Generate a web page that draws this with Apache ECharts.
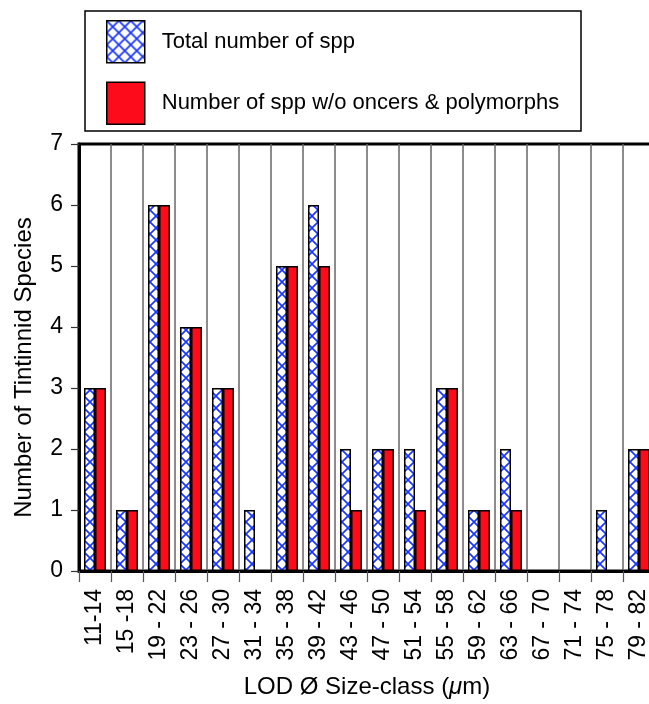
<!DOCTYPE html>
<html>
<head>
<meta charset="utf-8">
<script src="https://cdn.jsdelivr.net/npm/echarts@6/dist/echarts.min.js"></script>
<style>
  html, body { margin: 0; padding: 0; background: #fff; overflow: hidden; }
  #chart { width: 660px; height: 704px; }
</style>
</head>
<body>
<div id="chart"></div>
<script>
const categories = ['11-14', '15 -18', '19 - 22', '23 - 26', '27 - 30', '31 - 34', '35 - 38', '39 - 42', '43 - 46',
  '47 - 50', '51 - 54', '55 - 58', '59 - 62', '63 - 66', '67 - 70', '71 - 74', '75 - 78', '79 - 82']
const totalSpp = [3, 1, 6, 4, 3, 1, 5, 6, 2, 2, 2, 3, 1, 2, 0, 0, 1, 2]
const sppNoOncers = [3, 1, 6, 4, 3, 0, 5, 5, 1, 2, 1, 3, 1, 1, 0, 0, 0, 2]
const seriesNames = ['Total number of spp', 'Number of spp w/o oncers & polymorphs']

const FONT = '"Liberation Sans", Arial, Helvetica, sans-serif'

// blue cross-hatch tile
function hatchTile() {
  const s = 12
  const c = document.createElement('canvas')
  c.width = s
  c.height = s
  const ctx = c.getContext('2d')
  ctx.fillStyle = '#fff'
  ctx.fillRect(0, 0, s, s)
  ctx.strokeStyle = '#1a36ff'
  ctx.lineWidth = 1.7
  ctx.beginPath()
  ctx.moveTo(0, 0); ctx.lineTo(s, s)
  ctx.moveTo(s, 0); ctx.lineTo(0, s)
  ctx.stroke()
  return c
}

const chart = echarts.init(document.getElementById('chart'))

chart.setOption({
  animation: false,
  textStyle: { fontFamily: FONT },
  graphic: [
    {
      type: 'rect',
      shape: { x: 85, y: 11, width: 496, height: 120 },
      style: { fill: 'none', stroke: '#000', lineWidth: 1.5 },
      z: 10,
    },
  ],
  legend: {
    orient: 'vertical',
    left: 101,
    top: 15,
    itemWidth: 38,
    itemHeight: 42,
    itemGap: 18,
    icon: 'rect',
    itemStyle: { borderColor: '#000', borderWidth: 1.5 },
    textStyle: { fontFamily: FONT, fontSize: 22, color: '#000', padding: [0, 0, 0, 12] },
    data: seriesNames,
  },
  grid: {
    left: 79,
    right: 5,
    top: 144,
    bottom: 129,
    show: true,
    borderColor: '#000',
    borderWidth: 3,
    backgroundColor: 'transparent',
  },
  xAxis: {
    type: 'category',
    data: categories,
    name: 'LOD Ø Size-class ({i|μ}m)',
    nameLocation: 'middle',
    nameGap: 104,
    nameTextStyle: {
      fontFamily: FONT,
      fontSize: 24,
      color: '#000',
      rich: { i: { fontFamily: FONT, fontSize: 24, fontStyle: 'italic', color: '#000' } },
    },
    axisLine: { lineStyle: { color: '#000', width: 3 } },
    axisTick: { show: true, length: 11, lineStyle: { color: '#555', width: 1.2 } },
    axisLabel: { rotate: 90, margin: 18, fontSize: 23, color: '#000', fontFamily: FONT, interval: 0 },
    splitLine: { show: true, lineStyle: { color: '#666', width: 1.5 } },
  },
  yAxis: {
    type: 'value',
    min: 0,
    max: 7,
    interval: 1,
    name: 'Number of Tintinnid Species',
    nameLocation: 'middle',
    nameGap: 43,
    nameTextStyle: { fontFamily: FONT, fontSize: 24, color: '#000', padding: [0, 0, 0, -20] },
    axisLine: { show: true, lineStyle: { color: '#000', width: 3 } },
    axisTick: { show: true, length: 8, lineStyle: { color: '#333', width: 1.2 } },
    axisLabel: { fontSize: 23, color: '#000', margin: 16, fontFamily: FONT },
    splitLine: { show: false },
  },
  series: [
    {
      name: seriesNames[0],
      type: 'bar',
      data: totalSpp,
      barWidth: 11,
      barGap: '0%',
      itemStyle: {
        color: { image: hatchTile(), repeat: 'repeat' },
        borderColor: '#000',
        borderWidth: 1.5,
      },
    },
    {
      name: seriesNames[1],
      type: 'bar',
      data: sppNoOncers,
      barWidth: 11,
      barGap: '0%',
      itemStyle: { color: '#fe0b1b', borderColor: '#000', borderWidth: 1.5 },
    },
  ],
})
</script>
</body>
</html>
